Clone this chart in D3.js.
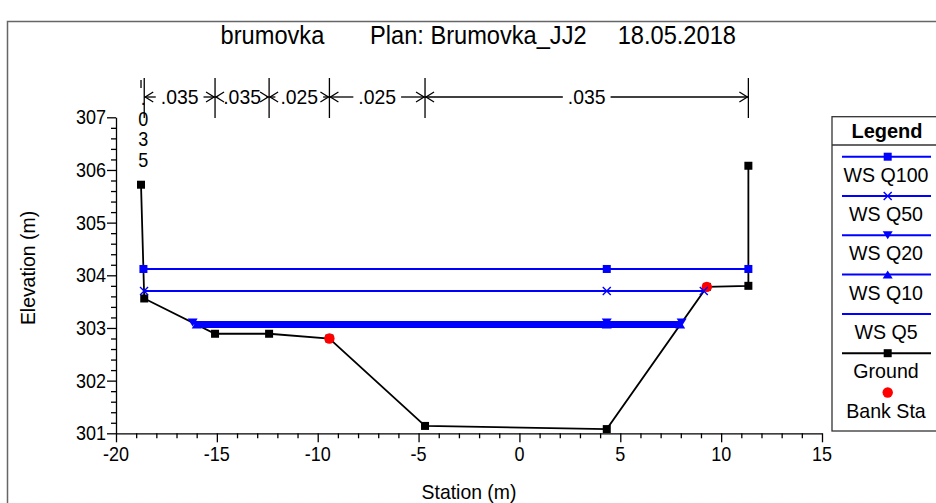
<!DOCTYPE html>
<html><head><meta charset="utf-8">
<script src="https://cdn.jsdelivr.net/npm/d3@7"></script>
<style>body{margin:0;background:#fff;overflow:hidden} text{font-family:"Liberation Sans",Arial,sans-serif;fill:#000}</style>
</head><body><svg id="c" width="936" height="503"></svg>
<script>
// ---- data ----
const groundStation = [-18.76, -18.6, -15.09, -12.41, -9.42, -4.68, 4.33, 9.29, 11.35, 11.35];
const groundElev    = [305.72, 303.56, 302.89, 302.89, 302.80, 301.14, 301.08, 303.78, 303.80, 306.08];
const bankStation = [-9.42, 9.29];
const bankElev    = [302.80, 303.78];
const wsNames   = ["WS Q100", "WS Q50", "WS Q20", "WS Q10", "WS Q5"];
const wsElev    = [304.12, 303.70, 303.105, 303.065, 303.03];
const wsStart   = [-18.64, -18.61, -16.2, -16.0, -15.8];
const wsEnd     = [11.35, 9.14, 8.04, 7.97, 7.91];
const wsMid     = [4.33, 4.33, 4.33, 4.33, 4.33];
const wsMarker  = ["square", "x", "down", "up", "none"];
const nBreaks = [-18.76, -18.6, -15.09, -12.41, -9.42, -4.68, 11.35];
const nValues = [".035", ".035", ".035", ".025", ".025", ".035"];
const xTickLabels = [-20, -15, -10, -5, 0, 5, 10, 15];
const yTickLabels = [301, 302, 303, 304, 305, 306, 307];
const titleParts = ["brumovka", "Plan: Brumovka_JJ2", "18.05.2018"];

// ---- setup ----
const svg = d3.select("#c");
const x = d3.scaleLinear().domain([-20, 15]).range([116, 822]);
const y = d3.scaleLinear().domain([301, 307]).range([433.3, 117.3]);
const BLUE = "#0000ff";

function txt(g, px, py, s, o = {}) {
  const size = o.size || 20, sx = o.sx || 0.9, rot = o.rot || 0;
  return g.append("text")
    .attr("transform", `translate(${px},${py}) rotate(${rot}) scale(${sx},1)`)
    .attr("text-anchor", o.anchor || "middle")
    .attr("font-size", size)
    .attr("font-weight", o.weight || "normal")
    .text(s);
}

// outer frame
svg.append("path").attr("d", "M7.5,503 V21.5 H936").attr("fill", "none").attr("stroke", "#666").attr("stroke-width", 1.5);

// title
const titleX = [220.6, 370, 617.7];
titleParts.forEach((t, i) => txt(svg, titleX[i], 44, t, {size: 25, sx: 0.945, anchor: "start"}));

// axes
const gx = svg.append("g").attr("transform", `translate(0,${y(301)})`);
gx.call(d3.axisBottom(x).tickValues(d3.range(-20, 16, 1)).tickSize(5).tickSizeOuter(0).tickFormat(""));
gx.selectAll(".tick line").attr("y2", d => d % 5 === 0 ? 9 : 5);
const gy = svg.append("g").attr("transform", `translate(${x(-20)},0)`);
gy.call(d3.axisLeft(y).tickValues(d3.range(0, 31).map(i => 301 + i * 0.2)).tickSize(5).tickSizeOuter(0).tickFormat(""));
gy.selectAll(".tick line").attr("x2", d => Math.abs(d - Math.round(d)) < 1e-6 ? -9 : -5);
svg.selectAll(".domain, .tick line").attr("stroke", "#000").attr("stroke-width", 1.3);

xTickLabels.forEach(v => txt(svg, x(v), 461, v));
yTickLabels.forEach(v => txt(svg, 106, y(v) + 7, v, {anchor: "end"}));
txt(svg, 469, 499, "Station (m)", {sx: 0.97});
txt(svg, 35, 268, "Elevation (m)", {rot: -90, sx: 0.97});

// Manning's n row
const nY = 97;
const ng = svg.append("g");
nBreaks.forEach((b, i) => {
  if (i === 0) ng.append("line").attr("x1", x(b)).attr("x2", x(b)).attr("y1", 80).attr("y2", 88).attr("stroke", "#000").attr("stroke-width", 1.3);
  else ng.append("line").attr("x1", x(b)).attr("x2", x(b)).attr("y1", 78).attr("y2", 118).attr("stroke", "#000").attr("stroke-width", 1.3);
});
nValues.forEach((v, i) => {
  const xl = x(nBreaks[i]), xr = x(nBreaks[i + 1]), xm = (xl + xr) / 2;
  if (xr - xl < 20) {
    v.split("").forEach((ch, k) => txt(ng, xm + 0.5, 105 + k * 20.5, ch));
    return;
  }
  const t = txt(ng, xm, nY + 7, v, {sx: 0.97});
  const w = t.node().getComputedTextLength() * 0.97;
  const gap = 5;
  if (xm - w / 2 - gap > xl + 2) ng.append("line").attr("x1", xl).attr("x2", xm - w / 2 - gap).attr("y1", nY).attr("y2", nY).attr("stroke", "#000").attr("stroke-width", 1.3);
  if (xm + w / 2 + gap < xr - 2) ng.append("line").attr("x1", xm + w / 2 + gap).attr("x2", xr).attr("y1", nY).attr("y2", nY).attr("stroke", "#000").attr("stroke-width", 1.3);
  ng.append("path").attr("d", `M${xl + 9},${nY - 5} L${xl + 1},${nY} L${xl + 9},${nY + 5}`).attr("fill", "none").attr("stroke", "#000").attr("stroke-width", 1.3);
  ng.append("path").attr("d", `M${xr - 9},${nY - 5} L${xr - 1},${nY} L${xr - 9},${nY + 5}`).attr("fill", "none").attr("stroke", "#000").attr("stroke-width", 1.3);
});

// marker drawing
function marker(g, type, px, py, color) {
  const s = 4;
  if (type === "square") g.append("rect").attr("x", px - s).attr("y", py - s).attr("width", 2 * s).attr("height", 2 * s).attr("fill", color);
  else if (type === "x") g.append("path").attr("d", `M${px - 4},${py - 4}L${px + 4},${py + 4}M${px - 4},${py + 4}L${px + 4},${py - 4}`).attr("stroke", color).attr("stroke-width", 1.4);
  else if (type === "down") g.append("path").attr("d", `M${px - 5},${py - 4}L${px + 5},${py - 4}L${px},${py + 4}Z`).attr("fill", color);
  else if (type === "up") g.append("path").attr("d", `M${px - 5},${py + 4}L${px + 5},${py + 4}L${px},${py - 4}Z`).attr("fill", color);
  else if (type === "circle") g.append("circle").attr("cx", px).attr("cy", py).attr("r", 5.2).attr("fill", color);
}

const plot = svg.append("g");
// ground
const groundPts = groundStation.map((s, i) => [x(s), y(groundElev[i])]);
plot.append("path").attr("d", d3.line()(groundPts)).attr("fill", "none").attr("stroke", "#000").attr("stroke-width", 1.8);
groundPts.forEach(p => marker(plot, "square", p[0], p[1], "#000"));
bankStation.forEach((s, i) => marker(plot, "circle", x(s), y(bankElev[i]), "#ff0000"));

// water surfaces
wsNames.forEach((n, i) => {
  const py = y(wsElev[i]);
  plot.append("line").attr("x1", x(wsStart[i])).attr("x2", x(wsEnd[i])).attr("y1", py).attr("y2", py)
    .attr("stroke", BLUE).attr("stroke-width", i >= 2 ? 3 : 2);
});
wsNames.forEach((n, i) => {
  const py = y(wsElev[i]);
  [wsStart[i], wsMid[i], wsEnd[i]].forEach(s => marker(plot, wsMarker[i], x(s), py, BLUE));
});

// legend
const lg = svg.append("g");
lg.append("rect").attr("x", 832).attr("y", 116.7).attr("width", 120).attr("height", 314.3).attr("fill", "#fff").attr("stroke", "#333").attr("stroke-width", 1.3);
lg.append("line").attr("x1", 832).attr("x2", 940).attr("y1", 145).attr("y2", 145).attr("stroke", "#333").attr("stroke-width", 1.3);
txt(lg, 887, 138, "Legend", {weight: "bold", sx: 1.0});
const legItems = wsNames.map((n, i) => ({name: n, color: BLUE, marker: wsMarker[i], line: true}))
  .concat([{name: "Ground", color: "#000", marker: "square", line: true}, {name: "Bank Sta", color: "#ff0000", marker: "circle", line: false}]);
legItems.forEach((d, i) => {
  const ly = 156.7 + i * 39.3;
  if (d.line) lg.append("line").attr("x1", 842).attr("x2", 931).attr("y1", ly).attr("y2", ly).attr("stroke", d.color).attr("stroke-width", 2);
  marker(lg, d.marker, 887.7, ly, d.color);
  txt(lg, 886, ly + 25, d.name, {sx: 0.98});
});
</script></body></html>
